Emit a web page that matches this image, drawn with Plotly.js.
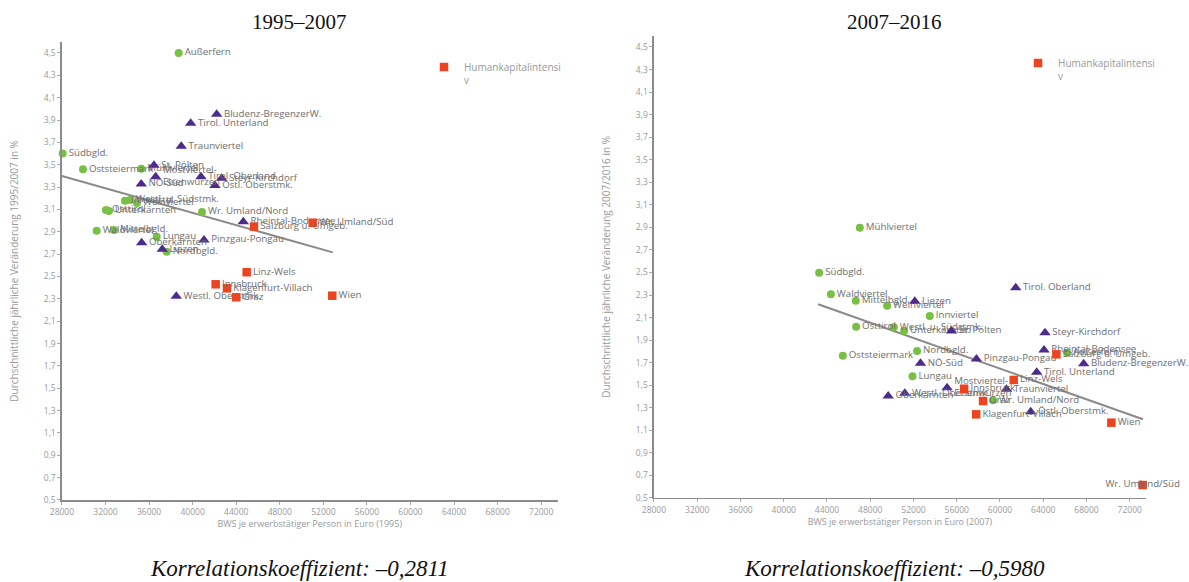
<!DOCTYPE html>
<html>
<head>
<meta charset="utf-8">
<script src="https://cdn.plot.ly/plotly-3.0.1.min.js"></script>
<style>html,body{margin:0;padding:0;background:#fff;}#chart{width:1189px;height:582px;}</style>
</head>
<body>
<div id="chart"></div>
<script>
// ---------- 1995–2007 ----------
const namesG95 = ["Außerfern","Südbgld.","Oststeiermark","Mühlviertel","Innviertel","Westl. u. Südstmk.","Weinviertel","Osttirol","Unterkärnten","Wr. Umland/Nord","Waldviertel","Mittelbgld.","Lungau","Nordbgld."];
const xG95 = [38717,28064,29929,35282,33785,34244,34887,32040,32316,40856,31187,32775,36697,37615];
const yG95 = [4.50,3.60,3.46,3.465,3.178,3.185,3.158,3.095,3.086,3.077,2.910,2.916,2.856,2.722];

const namesP95 = ["Bludenz-BregenzerW.","Tirol. Unterland","Traunviertel","St. Pölten","Mostviertel-<br>Eisenwurzen","Tirol. Oberland","Steyr-Kirchdorf","Östl. Oberstmk.","NÖ-Süd","Rheintal-Bodensee","Pinzgau-Pongau","Oberkärnten","Liezen","Westl. Oberstmk."];
const xP95 = [42206,39818,38955,36448,36604,40764,42665,42050,35282,44649,41040,35318,37211,38496];
const yP95 = [3.951,3.871,3.665,3.495,3.393,3.393,3.379,3.315,3.328,2.990,2.827,2.803,2.743,2.323];

const namesR95 = ["Salzburg u. Umgeb.","Wr. Umland/Süd","Linz-Wels","Innsbruck","Klagenfurt-Villach","Graz","Wien"];
const xR95 = [45631,51021,44961,42112,43152,44006,52821];
const yR95 = [2.946,2.981,2.538,2.430,2.394,2.314,2.328];

const trendX95 = [28000,52862];
const trendY95 = [3.399,2.716];

// ---------- 2007–2016 ----------
const namesG07 = ["Mühlviertel","Südbgld.","Waldviertel","Mittelbgld.","Weinviertel","Innviertel","Osttirol","Westl. u. Südstmk.","Unterkärnten","Oststeiermark","Nordbgld.","Lungau","Wr. Umland/Nord","Außerfern"];
const xG07 = [47039,43277,44358,46669,49562,53508,46696,50180,51133,45467,52334,51909,59358,66197];
const yG07 = [2.897,2.498,2.307,2.250,2.205,2.114,2.019,2.014,1.981,1.762,1.804,1.579,1.366,1.789];

const namesP07 = ["Liezen","St. Pölten","NÖ-Süd","Pinzgau-Pongau","Oberkärnten","Westl. Oberstmk.","Mostviertel-<br>Eisenwurzen","Traunviertel","Östl. Oberstmk.","Tirol. Unterland","Steyr-Kirchdorf","Tirol. Oberland","Rheintal-Bodensee","Bludenz-BregenzerW."];
const xP07 = [52121,55514,52648,57823,49661,51198,55107,60602,62842,63396,64164,61456,64072,67740];
const yP07 = [2.245,1.981,1.695,1.733,1.405,1.429,1.478,1.464,1.265,1.615,1.966,2.365,1.813,1.691];

const namesR07 = ["Innsbruck","Linz-Wels","Graz","Klagenfurt-Villach","Salzburg u. Umgeb.","Wien","Wr. Umland/Süd"];
const xR07 = [56685,61271,58434,57799,65217,70301,73193];
const yR07 = [1.469,1.547,1.360,1.242,1.774,1.168,0.615];
const posR07 = ["middle right","middle right","middle right","middle right","middle right","middle right","middle center"];

const trendX07 = [43185,73221];
const trendY07 = [2.218,1.198];

// ---------- ticks / texts ----------
const xTickVals = [28000,32000,36000,40000,44000,48000,52000,56000,60000,64000,68000,72000];
const xTickText = ["28000","32000","36000","40000","44000","48000","52000","56000","60000","64000","68000","72000"];
const yTickVals = [0.5,0.7,0.9,1.1,1.3,1.5,1.7,1.9,2.1,2.3,2.5,2.7,2.9,3.1,3.3,3.5,3.7,3.9,4.1,4.3,4.5];
const yTickText = ["0,5","0,7","0,9","1,1","1,3","1,5","1,7","1,9","2,1","2,3","2,5","2,7","2,9","3,1","3,3","3,5","3,7","3,9","4,1","4,3","4,5"];
const legendName = "Humankapitalintensi<br>v";

const cGreen = "#78c044", cPurple = "#4b2c8c", cRed = "#ec4421";
const labelFont = {family:"Open Sans, sans-serif", size:9.7, color:"#6e6e6e"};

function pts(x, y, names, color, symbol, size, xa, ya, pos, legendInfo) {
  const t = {
    type:"scatter", mode:"markers+text", x:x, y:y, text:names,
    textposition: pos || "middle right", textfont: labelFont, cliponaxis:false,
    marker:{color:color, symbol:symbol, size:size, line:{width:0}},
    xaxis:xa, yaxis:ya, hoverinfo:"text", showlegend:false
  };
  if (legendInfo) { t.showlegend = true; t.name = legendName; t.legend = legendInfo; }
  return t;
}
function trend(x, y, xa, ya) {
  return {type:"scatter", mode:"lines", x:x, y:y, xaxis:xa, yaxis:ya, showlegend:false,
          line:{color:"#8a8a8a", width:2}, hoverinfo:"skip"};
}

const data = [
  trend(trendX95, trendY95, "x", "y"),
  pts(xG95, yG95, namesG95, cGreen, "circle", 8, "x", "y"),
  pts(xP95, yP95, namesP95, cPurple, "triangle-up", 10, "x", "y"),
  pts(xR95, yR95, namesR95, cRed, "square", 8.5, "x", "y", null, "legend"),
  trend(trendX07, trendY07, "x2", "y2"),
  pts(xG07, yG07, namesG07, cGreen, "circle", 8, "x2", "y2"),
  pts(xP07, yP07, namesP07, cPurple, "triangle-up", 10, "x2", "y2"),
  pts(xR07, yR07, namesR07, cRed, "square", 8.5, "x2", "y2", posR07, "legend2")
];

function xAxis(domain, anchor, title) {
  return {domain:domain, anchor:anchor, range:[28000,73500], tickvals:xTickVals, ticktext:xTickText,
    showline:true, linecolor:"#8c8c8c", linewidth:1.5, ticks:"outside", ticklen:3, tickcolor:"#aaa",
    tickfont:{family:"Open Sans, sans-serif", size:8.5, color:"#9a9a9a"}, showgrid:false, zeroline:false,
    automargin:false, fixedrange:true,
    title:{text:title, font:{family:"Open Sans, sans-serif", size:9, color:"#9a9a9a"}, standoff:1}};
}
function yAxis(domain, anchor, title) {
  return {domain:domain, anchor:anchor, range:[0.5,4.6], tickvals:yTickVals, ticktext:yTickText,
    showline:true, linecolor:"#8c8c8c", linewidth:1.5, ticks:"outside", ticklen:3, tickcolor:"#aaa",
    tickfont:{family:"Open Sans, sans-serif", size:8.5, color:"#9a9a9a"}, showgrid:false, zeroline:false,
    automargin:false, fixedrange:true,
    title:{text:title, font:{family:"Open Sans, sans-serif", size:10, color:"#9a9a9a"}, standoff:23}};
}

const legendBase = {bgcolor:"rgba(0,0,0,0)", borderwidth:0, xanchor:"left", yanchor:"top", valign:"top",
  font:{family:"Open Sans, sans-serif", size:10, color:"#999"}};

const layout = {
  width:1189, height:582, margin:{l:0, r:0, t:0, b:0},
  paper_bgcolor:"#fff", plot_bgcolor:"#fff",
  font:{family:"Open Sans, sans-serif", color:"#888"},
  xaxis: xAxis([0.0521,0.4689], "y", "BWS je erwerbstätiger Person in Euro (1995)"),
  yaxis: yAxis([0.14089,0.92818], "x", "Durchschnittliche jährliche Veränderung 1995/2007 in %"),
  xaxis2: xAxis([0.5500,0.9638], "y2", "BWS je erwerbstätiger Person in Euro (2007)"),
  yaxis2: yAxis([0.14433,0.93866], "x2", "Durchschnittliche jährliche Veränderung 2007/2016 in %"),
  legend: Object.assign({x:0.3566, y:0.9072}, legendBase),
  legend2: Object.assign({x:0.8562, y:0.9141}, legendBase),
  annotations:[
    {text:"1995–2007", x:0.2523, y:0.962, xref:"paper", yref:"paper", xanchor:"center", yanchor:"middle", showarrow:false,
     font:{family:"Liberation Serif, serif", size:21, color:"#111"}},
    {text:"2007–2016", x:0.7527, y:0.962, xref:"paper", yref:"paper", xanchor:"center", yanchor:"middle", showarrow:false,
     font:{family:"Liberation Serif, serif", size:21, color:"#111"}},
    {text:"<i>Korrelationskoeffizient: –0,2811</i>", x:0.2515, y:0.024, xref:"paper", yref:"paper", xanchor:"center", yanchor:"middle", showarrow:false,
     font:{family:"Liberation Serif, serif", size:23, color:"#111"}},
    {text:"<i>Korrelationskoeffizient: –0,5980</i>", x:0.7527, y:0.024, xref:"paper", yref:"paper", xanchor:"center", yanchor:"middle", showarrow:false,
     font:{family:"Liberation Serif, serif", size:23, color:"#111"}}
  ]
};

Plotly.newPlot("chart", data, layout, {displayModeBar:false, staticPlot:true});
</script>
</body>
</html>
